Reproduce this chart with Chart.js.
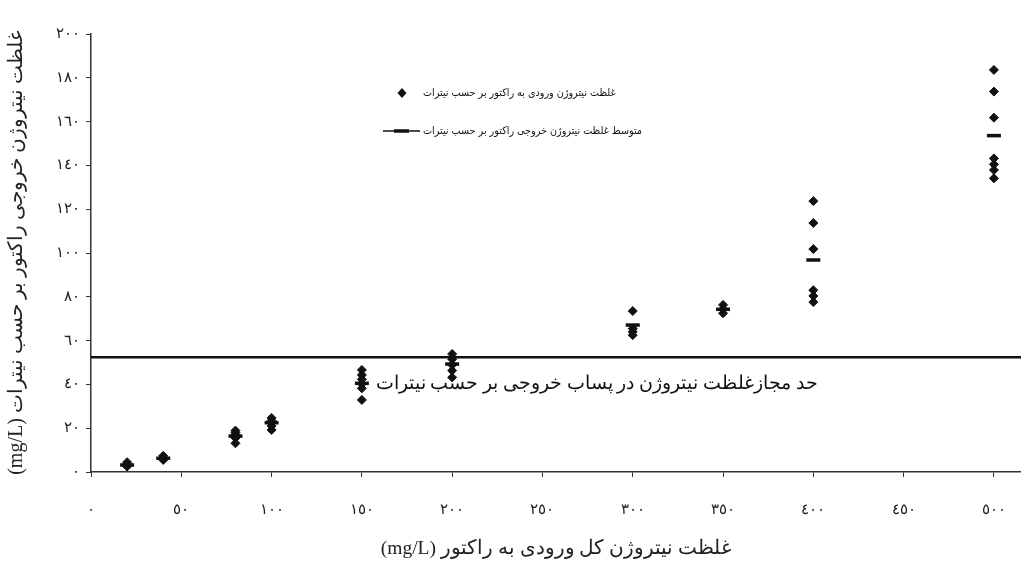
<!DOCTYPE html>
<html>
<head>
<meta charset="utf-8">
<script src="https://cdn.jsdelivr.net/npm/chart.js@4.4.0/dist/chart.umd.min.js"></script>
<style>
html, body { margin: 0; padding: 0; background: #fff; }
#wrap { width: 1021px; height: 567px; }
</style>
</head>
<body>
<div id="wrap"><canvas id="chart"></canvas></div>
<script>
// total inlet nitrogen (x) for each sampling group
var inletGroups = [20, 40, 80, 100, 150, 200, 300, 350, 400, 500];
// outlet nitrogen as nitrate, individual samples per group
var outletSamples = [
	[2.5, 3, 3.5, 4.5],
	[5.5, 6, 6.5, 7.4],
	[13.1, 15.5, 17, 18, 18.9],
	[19.2, 21, 22.5, 23.5, 24.7],
	[46.6, 44.3, 42.3, 40.2, 38.2, 32.9],
	[53.9, 51.5, 48.9, 46.3, 43.2],
	[73.5, 65.5, 64, 62.5],
	[76.3, 74.3, 72.5],
	[123.7, 113.7, 101.8, 83, 80.4, 77.6],
	[183.6, 173.7, 161.8, 143.2, 140.5, 137.9, 134.1]
];
// mean outlet value per group
var outletMean = [3.2, 6.3, 16.4, 22.5, 40.5, 49.3, 67.1, 74.3, 96.8, 153.6];
// permitted limit line
var limitValue = 52.4;

var xTickValues = [0, 50, 100, 150, 200, 250, 300, 350, 400, 450, 500];
var xTickLabels = ["٠", "٥٠", "١٠٠", "١٥٠", "٢٠٠", "٢٥٠", "٣٠٠", "٣٥٠", "٤٠٠", "٤٥٠", "٥٠٠"];
var yTickLabels = ["٠", "٢٠", "٤٠", "٦٠", "٨٠", "١٠٠", "١٢٠", "١٤٠", "١٦٠", "١٨٠", "٢٠٠"];

var legendText1 = "غلظت نیتروژن ورودی به راکتور بر حسب نیترات";
var legendText2 = "متوسط غلظت نیتروژن خروجی راکتور بر حسب نیترات";
var limitText = "حد مجازغلظت نیتروژن در پساب خروجی بر حسب نیترات";
// unit first so that it lands on the left (canvas runs ltr)
var xTitle = "(mg/L) غلظت نیتروژن کل ورودی به راکتور";
var yTitle = "(mg/L) غلظت نیتروژن خروجی راکتور بر حسب نیترات";

var serif = '"Liberation Serif", "Times New Roman", serif';

var samplePoints = [];
for (var i = 0; i < inletGroups.length; i++) {
	for (var j = 0; j < outletSamples[i].length; j++) {
		samplePoints.push({ x: inletGroups[i], y: outletSamples[i][j] });
	}
}
var meanPoints = inletGroups.map(function (x, i) { return { x: x, y: outletMean[i] }; });

var notesPlugin = {
	id: "notes",
	afterDatasetsDraw: function (chart) {
		var ctx = chart.ctx;
		ctx.save();
		// legend
		ctx.fillStyle = "#111";
		ctx.beginPath();
		ctx.moveTo(402, 88); ctx.lineTo(406.5, 93); ctx.lineTo(402, 98); ctx.lineTo(397.5, 93);
		ctx.closePath();
		ctx.fill();
		ctx.strokeStyle = "#111";
		ctx.lineWidth = 1.5;
		ctx.beginPath(); ctx.moveTo(383, 131); ctx.lineTo(420, 131); ctx.stroke();
		ctx.lineWidth = 3.5;
		ctx.beginPath(); ctx.moveTo(394, 131); ctx.lineTo(409, 131); ctx.stroke();
		ctx.direction = "rtl";
		ctx.textAlign = "left";
		ctx.textBaseline = "middle";
		ctx.font = '10.7px "DejaVu Sans Condensed", "DejaVu Sans", sans-serif';
		ctx.fillText(legendText1, 423, 93);
		ctx.fillText(legendText2, 423, 131);
		// limit label
		var xs = chart.scales.x, ys = chart.scales.y;
		ctx.font = "19px " + serif;
		ctx.textAlign = "center";
		ctx.fillText(limitText, xs.getPixelForValue(280), ys.getPixelForValue(40.2));
		ctx.restore();
	}
};

new Chart(document.getElementById("chart"), {
	type: "scatter",
	data: {
		datasets: [{
			label: legendText1,
			data: samplePoints,
			pointStyle: "rectRot",
			pointRadius: 4.5,
			pointBorderWidth: 1,
			backgroundColor: "#111",
			borderColor: "#111"
		}, {
			label: legendText2,
			data: meanPoints,
			pointStyle: "line",
			pointRadius: 7,
			pointBorderWidth: 3.5,
			borderColor: "#111",
			backgroundColor: "#111"
		}, {
			type: "line",
			label: "limit",
			data: [{ x: 0, y: limitValue }, { x: 515, y: limitValue }],
			borderColor: "#111",
			borderWidth: 2.5,
			pointRadius: 0
		}]
	},
	plugins: [notesPlugin],
	options: {
		responsive: true,
		maintainAspectRatio: false,
		animation: false,
		layout: { autoPadding: false, padding: { top: 34, right: 0, left: 0, bottom: 0 } },
		plugins: {
			legend: { display: false },
			tooltip: { enabled: false }
		},
		scales: {
			x: {
				type: "linear",
				min: 0,
				max: 515,
				afterBuildTicks: function (scale) {
					scale.ticks = xTickValues.map(function (v) { return { value: v }; });
				},
				afterFit: function (scale) {
					scale.height = 95;
					scale.paddingRight = 0;
					scale.paddingLeft = 0;
				},
				grid: { drawOnChartArea: false, tickLength: 5, color: "#333", tickWidth: 1 },
				border: { color: "#333", width: 1.5 },
				ticks: {
					padding: 24,
					maxRotation: 0,
					color: "#222",
					font: { family: serif, size: 15 },
					callback: function (v, i) { return xTickLabels[i]; }
				},
				title: {
					display: true,
					text: xTitle,
					color: "#222",
					font: { family: serif, size: 19.5 },
					padding: { top: 0, bottom: 6 }
				}
			},
			y: {
				min: 0,
				max: 200,
				afterFit: function (scale) {
					scale.width = 91;
					scale.paddingTop = 0;
					scale.paddingBottom = 0;
				},
				grid: { drawOnChartArea: false, tickLength: 5, color: "#333", tickWidth: 1 },
				border: { color: "#333", width: 1.5 },
				ticks: {
					stepSize: 20,
					padding: 6,
					color: "#222",
					font: { family: serif, size: 15 },
					callback: function (v, i) { return yTickLabels[i]; }
				},
				title: {
					display: true,
					text: yTitle,
					color: "#222",
					font: { family: serif, size: 20 },
					padding: { top: 5, bottom: 0 }
				}
			}
		}
	}
});
</script>
</body>
</html>
